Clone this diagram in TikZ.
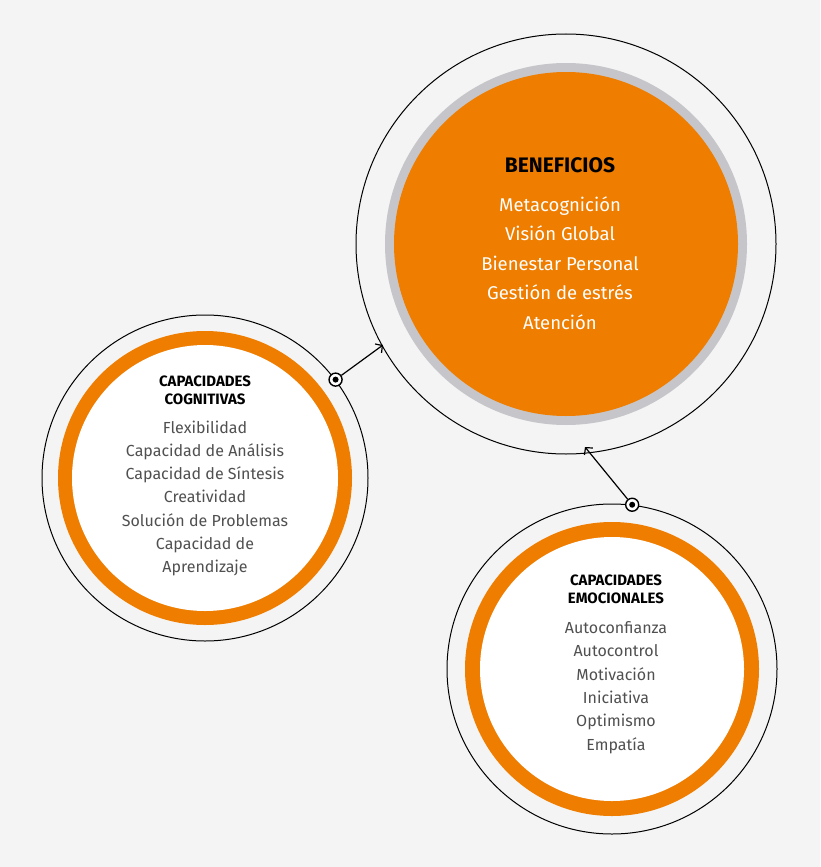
\documentclass[tikz,border=0pt]{standalone}
\usepackage{fontspec}
\setmainfont{Fira Sans}
\usetikzlibrary{arrows.meta}
\definecolor{bgGray}{HTML}{F4F4F4}
\definecolor{ringGray}{HTML}{C6C6CA}
\definecolor{capOrange}{HTML}{EE7D00}
\definecolor{txtGray}{HTML}{505050}

\begin{document}
\begin{tikzpicture}[x=1pt, y=-1pt,
outline/.style={circle, draw=black, line width=1pt, inner sep=0pt},
dotmark/.style={circle, draw=black, line width=1.4pt, fill=white, minimum size=13pt, inner sep=0pt},
link/.style={line width=1.2pt, -{Straight Barb[length=5pt, width=11pt]}},
head/.style={font=\bfseries\fontsize{15}{18}\selectfont, align=center, text=black},
items/.style={font=\fontsize{16}{23.3}\selectfont, align=center, text=txtGray},
scale=1]

\fill[bgGray] (0,0) rectangle (820,867);
\useasboundingbox (0,0) rectangle (820,867);

% BENEFICIOS
\node[outline, minimum size=420pt] (benef) at (566,244) {};
\fill[ringGray] (566,244) circle (181);
\fill[capOrange] (566,244) circle (172);
\node[font=\bfseries\fontsize{21}{24}\selectfont] (benefT) at (560,165) {BENEFICIOS};
\node[font=\fontsize{18.5}{29.5}\selectfont, text=white, align=center, anchor=north] (benefL) at (560,193)
{Metacognición\\Visión Global\\Bienestar Personal\\Gestión de estrés\\Atención};

% cognitivas
\node[outline, minimum size=326pt] (cog) at (205,478) {};
\fill[capOrange] (205,478) circle (147);
\fill[white] (205,478) circle (133);
\node[head] (cogT) at (205,390) {CAPACIDADES\\COGNITIVAS};
\node[items, anchor=north] (cogL) at (205,417)
{Flexibilidad\\Capacidad de Análisis\\Capacidad de Síntesis\\Creatividad\\Solución de Problemas\\Capacidad de\\Aprendizaje};

% emocionales
\node[outline, minimum size=330pt] (emo) at (612,669) {};
\fill[capOrange] (612,669) circle (147);
\fill[white] (612,669) circle (132);
\node[head] (emoT) at (616,589) {CAPACIDADES\\EMOCIONALES};
\node[items, anchor=north] (emoL) at (616,618)
{Autoconfianza\\Autocontrol\\Motivación\\Iniciativa\\Optimismo\\Empatía};

% links
\node[dotmark] (dotC) at (cog.37) {};
\fill (dotC) circle (3);
\node[dotmark] (dotE) at (emo.83) {};
\fill (dotE) circle (3);
\coordinate (endC) at (383,345);
\coordinate (endE) at (585,447);
\draw[link] (dotC) -- (endC);
\draw[link] (dotE) -- (endE);

\end{tikzpicture}
\end{document}
